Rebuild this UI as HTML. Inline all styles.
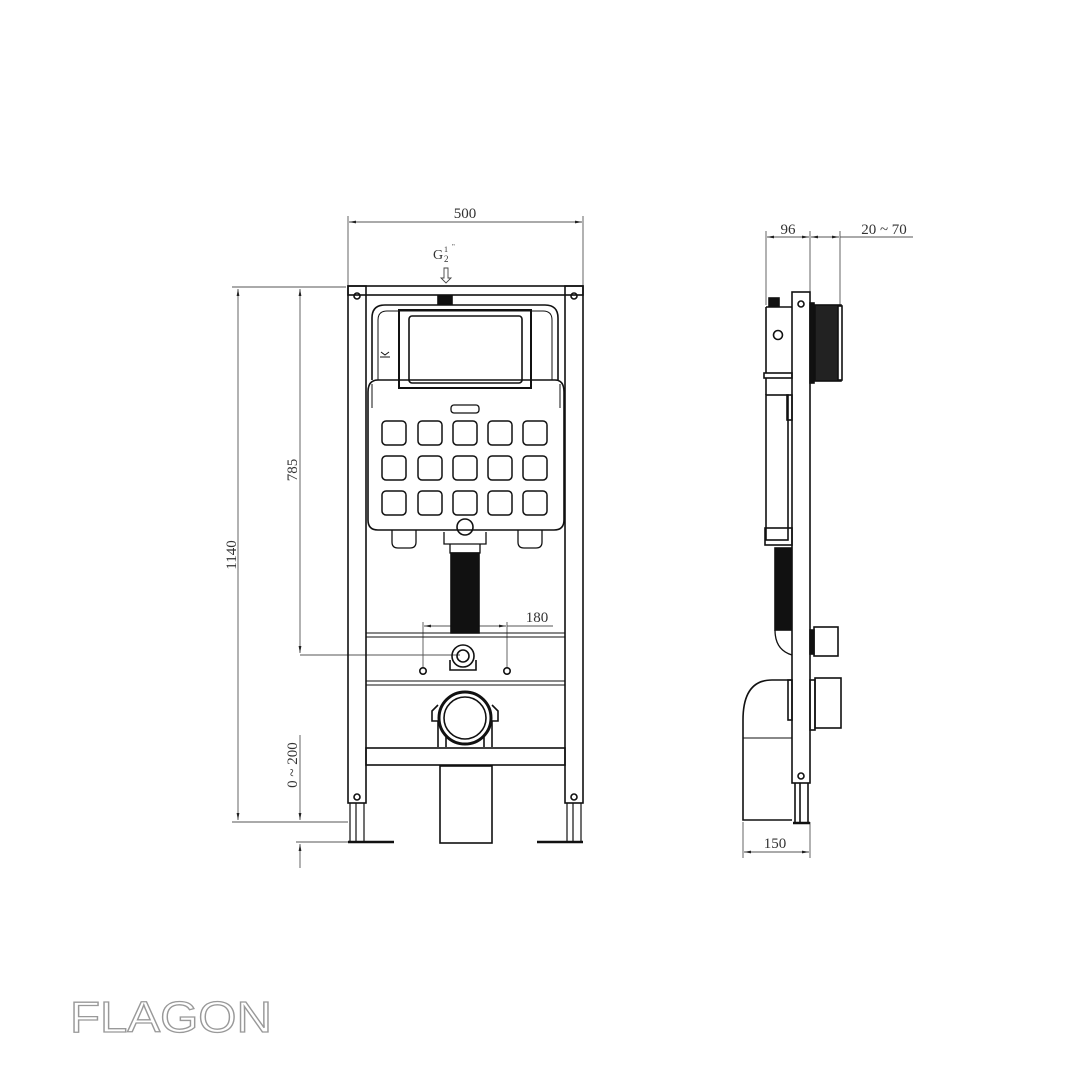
<!DOCTYPE html>
<html><head><meta charset="utf-8"><style>
html,body{margin:0;padding:0;background:#fff;width:1080px;height:1080px;overflow:hidden}
svg{display:block}
text{font-family:"Liberation Serif",serif;fill:#333}
</style></head><body>
<svg width="1080" height="1080" viewBox="0 0 1080 1080" xmlns="http://www.w3.org/2000/svg">
<defs>
<marker id="a" viewBox="0 0 10 10" refX="10" refY="5" markerWidth="8" markerHeight="8" orient="auto-start-reverse"><path d="M0,3 L10,5 L0,7z" fill="#222"/></marker>
</defs>
<g stroke="#555" stroke-width="0.9" fill="none">
<!-- top 500 dim -->
<line x1="348" y1="216" x2="348" y2="286"/><line x1="583" y1="216" x2="583" y2="286"/>
<line x1="349" y1="222" x2="582" y2="222" marker-start="url(#a)" marker-end="url(#a)"/>
<!-- left dims -->
<line x1="232" y1="287" x2="346" y2="287"/>
<line x1="232" y1="822" x2="348" y2="822"/>
<line x1="296" y1="842" x2="348" y2="842"/>
<line x1="300" y1="655" x2="460" y2="655"/>
<line x1="238" y1="289" x2="238" y2="820" marker-start="url(#a)" marker-end="url(#a)"/>
<line x1="300" y1="289" x2="300" y2="653" marker-start="url(#a)" marker-end="url(#a)"/>
<line x1="300" y1="735" x2="300" y2="820" marker-end="url(#a)"/>
<line x1="300" y1="868" x2="300" y2="844" marker-end="url(#a)"/>
<!-- 180 -->
<line x1="423" y1="622" x2="423" y2="668"/><line x1="507" y1="622" x2="507" y2="668"/>
<line x1="424" y1="626" x2="506" y2="626" marker-start="url(#a)" marker-end="url(#a)"/>
<line x1="507" y1="626" x2="553" y2="626"/>
<!-- side dims -->
<line x1="766" y1="231" x2="766" y2="305"/><line x1="810" y1="231" x2="810" y2="292"/><line x1="840" y1="231" x2="840" y2="305"/>
<line x1="767" y1="237" x2="809" y2="237" marker-start="url(#a)" marker-end="url(#a)"/>
<line x1="811" y1="237" x2="839" y2="237" marker-start="url(#a)" marker-end="url(#a)"/>
<line x1="840" y1="237" x2="913" y2="237"/>
<line x1="743" y1="822" x2="743" y2="858"/><line x1="810" y1="822" x2="810" y2="858"/>
<line x1="744" y1="852" x2="809" y2="852" marker-start="url(#a)" marker-end="url(#a)"/>
</g>
<text x="465" y="218" font-size="15" text-anchor="middle">500</text>
<text x="788" y="234" font-size="15" text-anchor="middle">96</text>
<text x="884" y="234" font-size="15" text-anchor="middle">20 ~ 70</text>
<text x="775" y="848" font-size="15" text-anchor="middle">150</text>
<text x="537" y="622" font-size="15" text-anchor="middle">180</text>
<text transform="translate(236,555) rotate(-90)" font-size="15" text-anchor="middle">1140</text>
<text transform="translate(297,470) rotate(-90)" font-size="15" text-anchor="middle">785</text>
<text transform="translate(297,765) rotate(-90)" font-size="15" text-anchor="middle">0 ~ 200</text>
<text x="433" y="259" font-size="14">G</text><text x="444" y="252" font-size="8">1</text><text x="444" y="262" font-size="9">2</text><text x="452" y="249" font-size="7">"</text>
<path d="M444,268 h4 v10 h3 l-5,5 l-5,-5 h3z" fill="none" stroke="#444" stroke-width="0.9"/>

<g stroke="#111" stroke-width="1.6" fill="none">
<!-- frame -->
<rect x="348" y="286" width="235" height="9"/>
<rect x="348" y="286" width="18" height="517"/>
<rect x="565" y="286" width="18" height="517"/>
<line x1="366" y1="633" x2="565" y2="633" stroke-width="1"/><line x1="366" y1="637" x2="565" y2="637" stroke-width="1"/>
<line x1="366" y1="681" x2="565" y2="681" stroke-width="1"/><line x1="366" y1="685" x2="565" y2="685" stroke-width="1"/>
<rect x="366" y="748" width="199" height="17"/>
<circle cx="357" cy="296" r="3"/><circle cx="574" cy="296" r="3"/>
<circle cx="357" cy="797" r="3"/><circle cx="574" cy="797" r="3"/>
<!-- legs -->
<path d="M350,803 V842 M356,803 V842 M364,803 V842 M567,803 V842 M573,803 V842 M581,803 V842" stroke-width="1.2"/>
<line x1="348" y1="842" x2="394" y2="842" stroke-width="2.5"/>
<line x1="537" y1="842" x2="583" y2="842" stroke-width="2.5"/>
<!-- pan pipe -->
<rect x="440" y="766" width="52" height="77"/>
<!-- cistern top -->
<path d="M372,380 V318 Q372,305 385,305 H545 Q558,305 558,318 V380"/>
<path d="M378,380 V320 Q378,311 387,311 H543 Q552,311 552,320 V380" stroke-width="1"/>
<rect x="438" y="296" width="14" height="8" fill="#111"/>
<rect x="399" y="310" width="132" height="78" stroke-width="2"/>
<rect x="409" y="316" width="113" height="67" rx="3"/>
<path d="M381,352 l4,3 l4,-3 M380,357 h10" stroke-width="1"/>
<!-- cistern body -->
<path d="M368,392 Q368,380 378,380 H555 Q564,380 564,392 V520 Q564,530 554,530 H378 Q368,530 368,520 Z"/>
<path d="M372,384 V408 M560,384 V408" stroke-width="1"/>
<rect x="451" y="405" width="28" height="8" rx="3" stroke-width="1.3"/>
<circle cx="465" cy="527" r="8"/>
<path d="M392,530 v12 q0,6 6,6 h12 q6,0 6,-6 v-12 M518,530 v12 q0,6 6,6 h12 q6,0 6,-6 v-12" stroke-width="1.3"/>
<path d="M444,532 v12 h42 v-12 M450,544 v9 h30 v-9" stroke-width="1.3"/>
<!-- hose -->
<rect x="451" y="553" width="28" height="80" fill="#111"/>
<!-- connector -->
<circle cx="463" cy="656" r="11"/><circle cx="463" cy="656" r="6"/>
<path d="M450,660 v10 h26 v-10"/>
<circle cx="423" cy="671" r="3.2"/><circle cx="507" cy="671" r="3.2"/>
<!-- big ring -->
<circle cx="465" cy="718" r="26" stroke-width="3"/>
<circle cx="465" cy="718" r="21"/>
<path d="M438,705 l-6,6 v10 l6,0 v26 M492,705 l6,6 v10 l-6,0 v26 M446,735 v12 M484,735 v12"/>

<!-- side view -->
<rect x="792" y="292" width="18" height="491"/>
<circle cx="801" cy="304" r="3"/><circle cx="801" cy="776" r="3"/>
<path d="M795,783 V823 M800,783 V823 M808,783 V823"/>
<line x1="793" y1="823" x2="810" y2="823" stroke-width="2.5"/>
<rect x="769" y="298" width="10" height="8" fill="#111"/>
<path d="M766,307 V350 M766,307 H792"/>
<circle cx="778" cy="335" r="4.5"/>
<rect x="764" y="373" width="28" height="5"/>
<path d="M766,350 V373 M766,378 V395"/>
<rect x="766" y="395" width="22" height="145"/>
<rect x="787" y="395" width="5" height="25"/>
<rect x="765" y="528" width="27" height="17"/>
<rect x="775" y="548" width="16" height="82" fill="#111"/>
<path d="M775,630 q0,20 17,25" stroke-width="1.3"/>
<rect x="810" y="303" width="4" height="80" fill="#111"/>
<rect x="815" y="305" width="26" height="76" fill="#222"/>
<rect x="838" y="306" width="4" height="74" fill="#fff"/>
<rect x="810" y="630" width="4" height="24" fill="#111"/>
<rect x="814" y="627" width="24" height="29"/>
<rect x="810" y="680" width="5" height="50"/>
<rect x="815" y="678" width="26" height="50"/>
<path d="M792,680 H772 Q743,680 743,720 V820 H792"/>
<line x1="743" y1="738" x2="792" y2="738" stroke-width="1"/>
<rect x="788" y="680" width="4" height="40"/>
</g>
<!-- grid -->
<g stroke="#111" stroke-width="1.5" fill="none">
<rect x="382" y="421" width="24" height="24" rx="4"/><rect x="418" y="421" width="24" height="24" rx="4"/><rect x="453" y="421" width="24" height="24" rx="4"/><rect x="488" y="421" width="24" height="24" rx="4"/><rect x="523" y="421" width="24" height="24" rx="4"/>
<rect x="382" y="456" width="24" height="24" rx="4"/><rect x="418" y="456" width="24" height="24" rx="4"/><rect x="453" y="456" width="24" height="24" rx="4"/><rect x="488" y="456" width="24" height="24" rx="4"/><rect x="523" y="456" width="24" height="24" rx="4"/>
<rect x="382" y="491" width="24" height="24" rx="4"/><rect x="418" y="491" width="24" height="24" rx="4"/><rect x="453" y="491" width="24" height="24" rx="4"/><rect x="488" y="491" width="24" height="24" rx="4"/><rect x="523" y="491" width="24" height="24" rx="4"/>
</g>
<text x="70" y="1032" font-size="44" textLength="202" lengthAdjust="spacingAndGlyphs" style="font-family:'Liberation Sans',sans-serif;fill:#fff;stroke:#999;stroke-width:1.3">FLAGON</text>
</svg>
</body></html>
